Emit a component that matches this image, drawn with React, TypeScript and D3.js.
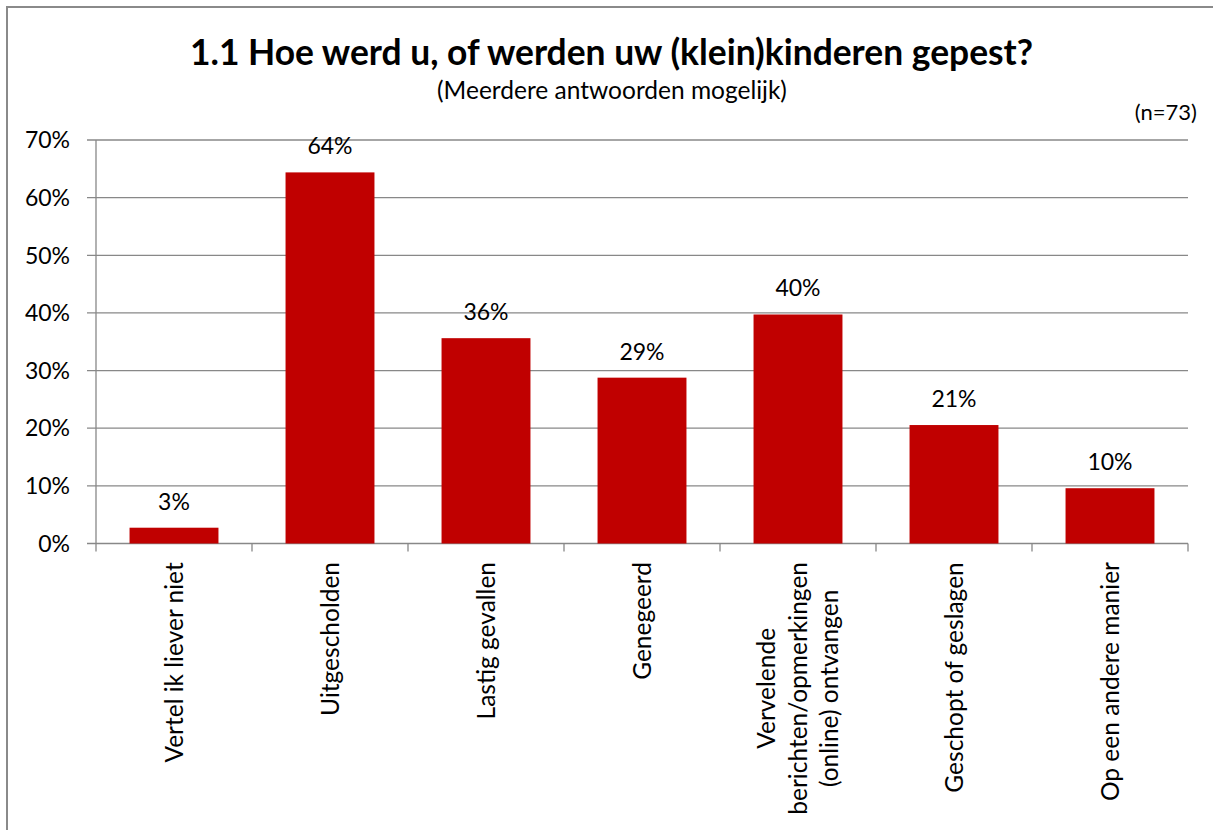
import React from "react";
import * as d3 from "d3";

const categories: string[][] = [
  ["Vertel ik liever niet"],
  ["Uitgescholden"],
  ["Lastig gevallen"],
  ["Genegeerd"],
  ["Vervelende", "berichten/opmerkingen", "(online) ontvangen"],
  ["Geschopt of geslagen"],
  ["Op een andere manier"],
];
const values: number[] = [0.0274, 0.6438, 0.3562, 0.2877, 0.3973, 0.2055, 0.0959];
const valueLabels: string[] = ["3%", "64%", "36%", "29%", "40%", "21%", "10%"];
const yTicks: number[] = [0, 0.1, 0.2, 0.3, 0.4, 0.5, 0.6, 0.7];
const title = "1.1 Hoe werd u, of werden uw (klein)kinderen gepest?";
const subtitle = "(Meerdere antwoorden mogelijk)";
const nLabel = "(n=73)";

const W = 1213;
const H = 830;
const FONT = "Lato, 'Open Sans', sans-serif";
const plot = { left: 96, right: 1188, top: 140, bottom: 543.5 };

function measure(text: string, size: number): number {
  const c = document.createElement("canvas").getContext("2d");
  if (!c) return text.length * size * 0.5;
  c.font = `${size}px Lato`;
  return c.measureText(text).width;
}

export default function App() {
  const x = d3
    .scaleBand<number>()
    .domain(categories.map((_, i) => i))
    .range([plot.left, plot.right])
    .paddingInner(0.43)
    .paddingOuter(0.215);
  const xOuter = d3
    .scaleBand<number>()
    .domain(categories.map((_, i) => i))
    .range([plot.left, plot.right]);
  const y = d3.scaleLinear().domain([0, 0.7]).range([plot.bottom, plot.top]);
  const numSize = 23;
  const catSize = 24.5;
  const lineGap = 31.5;
  const labelTop = 562;

  return (
    <svg
      width={W}
      height={H}
      style={{ position: "absolute", left: 0, top: 0, background: "#fff" }}
      fontFamily={FONT}
    >
      <rect x={0} y={0} width={W} height={H} fill="#fff" />
      <rect x={7} y={7} width={1400} height={1000} fill="none" stroke="#8a8a8a" strokeWidth={2} />
      <text x={611.5} y={65} textAnchor="middle" fontSize={35.4} fontWeight="bold" fill="#000">
        {title}
      </text>
      <text x={612} y={99} textAnchor="middle" fontSize={24.5} fill="#000">
        {subtitle}
      </text>
      <text x={1197} y={120} textAnchor="end" fontSize={22} fill="#000">
        {nLabel}
      </text>
      {yTicks.map((t) => (
        <g key={t}>
          <line
            x1={plot.left - 9}
            x2={plot.right}
            y1={y(t)}
            y2={y(t)}
            stroke="#888"
            strokeWidth={1.3}
          />
          <text x={70} y={y(t)} dy="0.36em" textAnchor="end" fontSize={numSize} fill="#000">
            {d3.format(".0%")(t)}
          </text>
        </g>
      ))}
      <line x1={plot.left} x2={plot.left} y1={plot.top} y2={plot.bottom + 8} stroke="#888" strokeWidth={1.3} />
      {categories.map((_, i) => (
        <line
          key={"t" + i}
          x1={xOuter(i)! + xOuter.bandwidth()}
          x2={xOuter(i)! + xOuter.bandwidth()}
          y1={plot.bottom}
          y2={plot.bottom + 8}
          stroke="#888"
          strokeWidth={1.3}
        />
      ))}
      {values.map((v, i) => (
        <g key={"b" + i}>
          <rect x={x(i)} y={y(v)} width={x.bandwidth()} height={plot.bottom - y(v)} fill="#C00000" />
          <text x={x(i)! + x.bandwidth() / 2} y={y(v) - 18} textAnchor="middle" fontSize={numSize} fill="#000">
            {valueLabels[i]}
          </text>
        </g>
      ))}
      {categories.map((lines, i) => {
        const cx = xOuter(i)! + xOuter.bandwidth() / 2;
        const maxW = Math.max(...lines.map((l) => measure(l, catSize)));
        const cy = labelTop + maxW / 2;
        const n = lines.length;
        return (
          <g key={"c" + i}>
            {lines.map((l, j) => {
              const lx = cx + (j - (n - 1) / 2) * lineGap;
              return (
                <text
                  key={j}
                  transform={`translate(${lx},${cy}) rotate(-90)`}
                  dy="0.36em"
                  textAnchor="middle"
                  fontSize={catSize}
                  fill="#000"
                >
                  {l}
                </text>
              );
            })}
          </g>
        );
      })}
    </svg>
  );
}
